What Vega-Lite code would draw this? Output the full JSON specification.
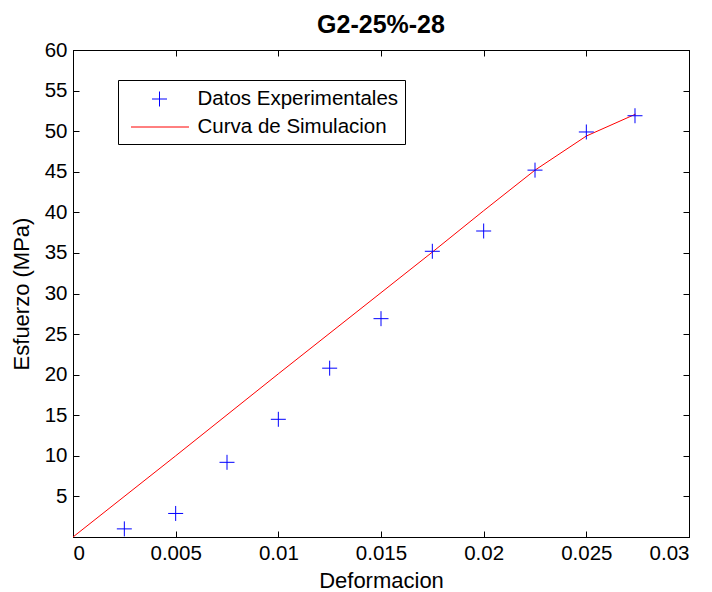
{
  "$schema": "https://vega.github.io/schema/vega-lite/v6.json",
  "autosize": "none",
  "width": 616,
  "height": 487,
  "padding": {"left": 73, "top": 50, "right": 23, "bottom": 55},
  "background": "white",
  "title": {"text": "G2-25%-28", "font": "Liberation Sans", "fontSize": 25, "fontWeight": "bold", "color": "black", "offset": 2},
  "config": {
    "view": {"stroke": "black", "strokeWidth": 1},
    "axis": {"labelFont": "Liberation Sans", "titleFont": "Liberation Sans", "labelFontSize": 20.5, "titleFontSize": 22, "titleFontWeight": "normal", "labelColor": "black", "titleColor": "black", "domainColor": "black", "tickColor": "black", "grid": false, "tickSize": -6, "labelPadding": 12}
  },
  "datasets": {
    "exp": [
      {"d": 0.0025, "s": 1.0, "serie": "Datos Experimentales"},
      {"d": 0.005, "s": 2.9, "serie": "Datos Experimentales"},
      {"d": 0.0075, "s": 9.2, "serie": "Datos Experimentales"},
      {"d": 0.01, "s": 14.5, "serie": "Datos Experimentales"},
      {"d": 0.0125, "s": 20.8, "serie": "Datos Experimentales"},
      {"d": 0.015, "s": 26.9, "serie": "Datos Experimentales"},
      {"d": 0.0175, "s": 35.2, "serie": "Datos Experimentales"},
      {"d": 0.02, "s": 37.7, "serie": "Datos Experimentales"},
      {"d": 0.0225, "s": 45.2, "serie": "Datos Experimentales"},
      {"d": 0.025, "s": 49.9, "serie": "Datos Experimentales"},
      {"d": 0.02737, "s": 51.9, "serie": "Datos Experimentales"}
    ],
    "sim": [
      {"d": 0, "s": 0, "serie": "Curva de Simulacion"},
      {"d": 0.005, "s": 10.0, "serie": "Curva de Simulacion"},
      {"d": 0.01, "s": 20.1, "serie": "Curva de Simulacion"},
      {"d": 0.015, "s": 30.1, "serie": "Curva de Simulacion"},
      {"d": 0.0175, "s": 35.1, "serie": "Curva de Simulacion"},
      {"d": 0.02, "s": 40.2, "serie": "Curva de Simulacion"},
      {"d": 0.0225, "s": 45.2, "serie": "Curva de Simulacion"},
      {"d": 0.025, "s": 49.4, "serie": "Curva de Simulacion"},
      {"d": 0.0274, "s": 52.1, "serie": "Curva de Simulacion"}
    ]
  },
  "layer": [
    {
      "data": {"name": "sim"},
      "mark": {"type": "line", "strokeWidth": 1},
      "encoding": {
        "x": {"field": "d", "type": "quantitative", "scale": {"domain": [0, 0.03], "nice": false, "zero": false},
              "axis": {"orient": "bottom", "title": "Deformacion", "values": [0, 0.005, 0.01, 0.015, 0.02, 0.025, 0.03], "format": "~g", "titlePadding": 7}},
        "y": {"field": "s", "type": "quantitative", "scale": {"domain": [0, 60], "nice": false},
              "axis": {"orient": "left", "title": "Esfuerzo (MPa)", "values": [0, 5, 10, 15, 20, 25, 30, 35, 40, 45, 50, 55, 60], "labelExpr": "datum.value == 0 ? '' : datum.label", "titlePadding": 11}},
        "color": {"field": "serie", "type": "nominal", "scale": {"domain": ["Datos Experimentales", "Curva de Simulacion"], "range": ["#0000ff", "#ff0000"]},
          "legend": {"title": null, "orient": "none", "legendX": 45, "legendY": 30, "labelFont": "Liberation Sans", "labelFontSize": 20.5, "labelColor": "black", "labelLimit": 0, "symbolSize": 576, "symbolStrokeWidth": 1, "symbolFillColor": "transparent", "strokeColor": "black", "fillColor": "white", "padding": 6.5, "labelOffset": 48, "rowPadding": 5, "symbolOpacity": 1,
            "encode": {"symbols": {"enter": {"shape": {"signal": "datum.value === 'Datos Experimentales' ? 'M1.25,0H2.5M1.875,-0.625V0.625' : 'M-0.5,0H4.333'"}}, "update": {"stroke": {"scale": "color", "field": "value"}, "fill": {"value": "transparent"}, "shape": {"signal": "datum.value === 'Datos Experimentales' ? 'M1.25,0H2.5M1.875,-0.625V0.625' : 'M-0.5,0H4.333'"}}}}}}
      }
    },
    {
      "data": {"name": "exp"},
      "mark": {"type": "point", "filled": false, "strokeWidth": 1, "size": 3600, "opacity": 1, "shape": "M-0.25,0H0.25M0,-0.25V0.25"},
      "encoding": {
        "x": {"field": "d", "type": "quantitative", "axis": {"orient": "top", "labels": false, "title": null, "values": [0, 0.005, 0.01, 0.015, 0.02, 0.025, 0.03]}},
        "y": {"field": "s", "type": "quantitative", "axis": {"orient": "right", "labels": false, "title": null, "values": [0, 5, 10, 15, 20, 25, 30, 35, 40, 45, 50, 55, 60]}},
        "color": {"field": "serie", "type": "nominal"}
      }
    }
  ],
  "resolve": {"axis": {"x": "independent", "y": "independent"}}
}
